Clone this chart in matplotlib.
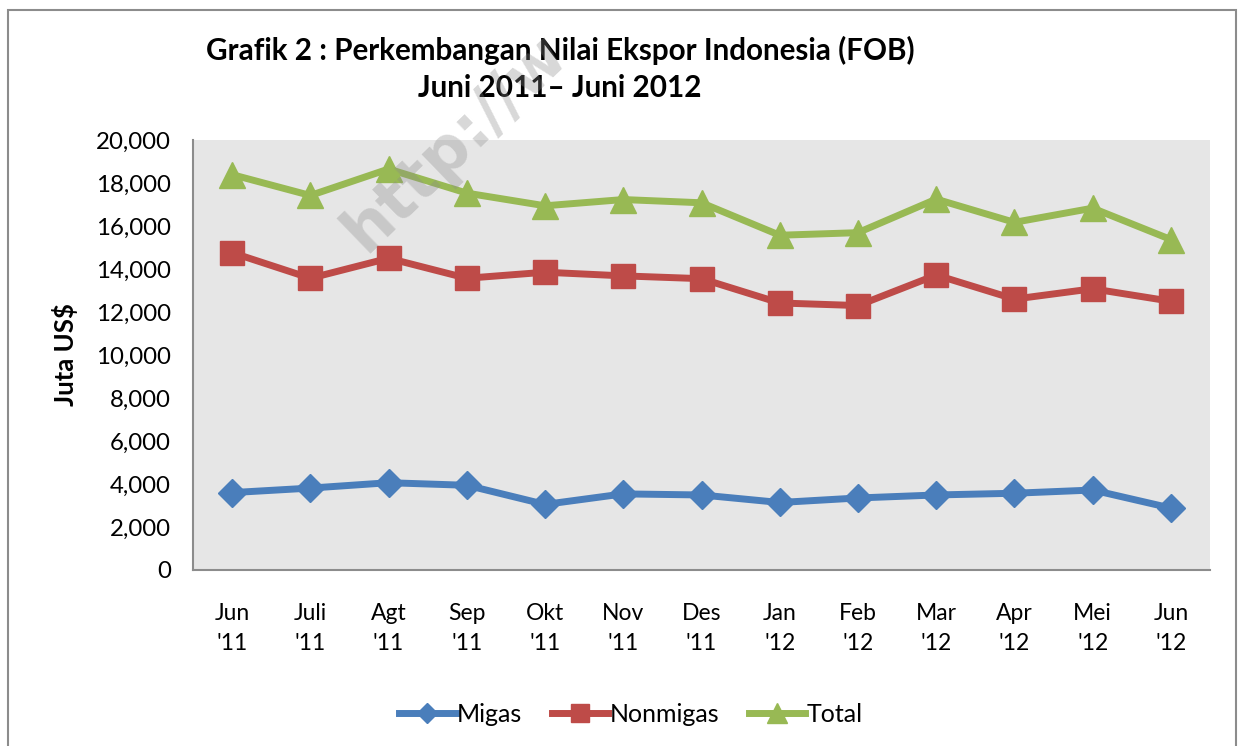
import matplotlib.pyplot as plt
from matplotlib.patches import Rectangle
import numpy as np

# data (juta US$)
bulan = ["Jun\n'11", "Juli\n'11", "Agt\n'11", "Sep\n'11", "Okt\n'11", "Nov\n'11", "Des\n'11",
         "Jan\n'12", "Feb\n'12", "Mar\n'12", "Apr\n'12", "Mei\n'12", "Jun\n'12"]
migas = [3600, 3810, 4060, 3940, 3050, 3540, 3490, 3140, 3350, 3490, 3570, 3720, 2880]
nonmigas = [14760, 13570, 14500, 13570, 13850, 13680, 13550, 12420, 12300, 13720, 12600, 13080, 12500]
total = [18390, 17420, 18650, 17530, 16940, 17230, 17080, 15570, 15690, 17250, 16170, 16830, 15370]

plt.rcParams['font.family'] = ['Lato', 'DejaVu Sans']

fig = plt.figure(figsize=(12.38, 7.46), dpi=100)
fig.patches.append(Rectangle((8 / 1238, -0.1), 1228 / 1238, 1.1 - 10 / 746, transform=fig.transFigure,
                             fill=False, edgecolor='#8c8c8c', linewidth=1.5))

ax = fig.add_axes([193 / 1238, 1 - 570 / 746, 1017 / 1238, 430 / 746])
ax.set_facecolor('#e6e6e6')
x = np.arange(len(bulan))

ax.plot(x, migas, color='#4a7ebb', linewidth=5, marker='D', markersize=14, label='Migas')
ax.plot(x, nonmigas, color='#be4b48', linewidth=5, marker='s', markersize=17, label='Nonmigas')
ax.plot(x, total, color='#98b954', linewidth=5, marker='^', markersize=19, label='Total')

ax.set_xlim(-0.5, len(bulan) - 0.5)
ax.set_ylim(0, 20000)
ax.set_yticks(range(0, 20001, 2000))
ax.set_yticklabels([f'{v:,}' for v in range(0, 20001, 2000)])
ax.set_xticks(x)
ax.set_xticklabels(bulan, linespacing=1.5)
ax.tick_params(axis='both', length=0, colors='black')
ax.tick_params(axis='x', pad=24, labelsize=16.5)
ax.tick_params(axis='y', pad=16, labelsize=17.3)
for s in ['top', 'right']:
    ax.spines[s].set_visible(False)
for s in ['left', 'bottom']:
    ax.spines[s].set_color('#8c8c8c')
    ax.spines[s].set_linewidth(1.5)

ax.set_ylabel('Juta US$', fontsize=18.5, fontweight='bold', labelpad=13)

fig.text(560 / 1238, 1 - 50 / 746, 'Grafik 2 : Perkembangan Nilai Ekspor Indonesia (FOB)',
         ha='center', va='center', fontsize=21.3, fontweight='bold')
fig.text(560 / 1238, 1 - 88 / 746, 'Juni 2011\u2013 Juni 2012',
         ha='center', va='center', fontsize=21.3, fontweight='bold')

# watermark
fig.text(366 / 1238, 1 - 254 / 746, 'http://w', rotation=44, rotation_mode='anchor',
         ha='left', va='baseline', fontsize=46, fontweight='bold', family='DejaVu Sans',
         color='#8a8a8a', alpha=0.33)

fig.legend(loc='center', bbox_to_anchor=(631 / 1238, 1 - 714 / 746), ncol=3, frameon=False,
           fontsize=18, handlelength=2.25, handletextpad=0.05, columnspacing=1.2, markerscale=0.75)

fig.savefig('out.png', dpi=100)
